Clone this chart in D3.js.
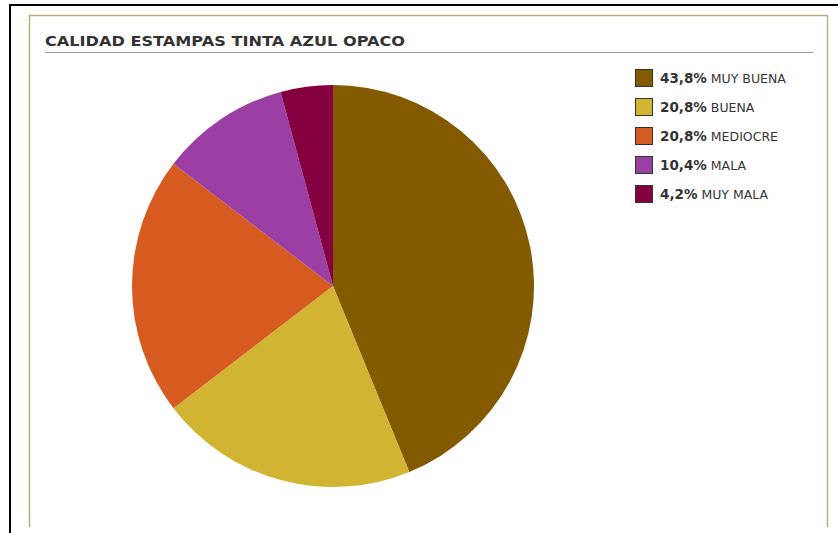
<!DOCTYPE html>
<html><head><meta charset="utf-8">
<script src="https://cdn.jsdelivr.net/npm/d3@7"></script>
<style>body{margin:0;background:#fff;}svg{display:block;}</style>
</head><body>
<script>
const categories = ["MUY BUENA", "BUENA", "MEDIOCRE", "MALA", "MUY MALA"];
const values = [43.8, 20.8, 20.8, 10.4, 4.2];
const percentLabels = ["43,8%", "20,8%", "20,8%", "10,4%", "4,2%"];
const colors = ["#835A00", "#D0B432", "#D75A20", "#9B3FA5", "#850040"];
const title = "CALIDAD ESTAMPAS TINTA AZUL OPACO";

const W = 838, H = 533;
const svg = d3.select("body").append("svg").attr("width", W).attr("height", H);

// outer black frame
svg.append("rect").attr("x", 0).attr("y", 0).attr("width", W).attr("height", H).attr("fill", "#fff");
svg.append("line").attr("x1", 9).attr("x2", W).attr("y1", 5).attr("y2", 5).attr("stroke", "#000").attr("stroke-width", 2);
svg.append("line").attr("x1", 10).attr("x2", 10).attr("y1", 4).attr("y2", H).attr("stroke", "#000").attr("stroke-width", 2);

// inner olive panel
svg.append("path").attr("d", "M29.5,527 V15.5 H827.5 V527")
  .attr("fill", "none").attr("stroke", "#B5B07A").attr("stroke-width", 1.5);

// title
svg.append("text").attr("x", 45).attr("y", 46).text(title)
  .attr("font-family", "Verdana, 'DejaVu Sans', sans-serif").attr("font-weight", "bold")
  .attr("font-size", 14.5).attr("fill", "#333")
  .attr("textLength", 360).attr("lengthAdjust", "spacingAndGlyphs");
svg.append("line").attr("x1", 45).attr("x2", 813).attr("y1", 52.5).attr("y2", 52.5)
  .attr("stroke", "#999").attr("stroke-width", 1);

// pie
const cx = 333, cy = 286, r = 201;
const pie = d3.pie().sort(null).value(d => d)(values);
const arc = d3.arc().innerRadius(0).outerRadius(r);
svg.append("g").attr("transform", `translate(${cx},${cy})`)
  .selectAll("path").data(pie).join("path")
  .attr("d", arc).attr("fill", (d, i) => colors[i]);

// legend
const lg = svg.append("g").attr("transform", "translate(635,69)");
const rows = lg.selectAll("g").data(categories).join("g")
  .attr("transform", (d, i) => `translate(0,${i * 29})`);
rows.append("rect").attr("x", 0.5).attr("y", 0.5).attr("width", 17).attr("height", 17)
  .attr("fill", (d, i) => colors[i]).attr("stroke", "#333").attr("stroke-width", 1);
const t = rows.append("text").attr("x", 25).attr("y", 14)
  .attr("font-family", "Verdana, 'DejaVu Sans', sans-serif").attr("fill", "#333");
t.append("tspan").attr("font-weight", "bold").attr("font-size", 13.5).text((d, i) => percentLabels[i]);
t.append("tspan").attr("font-size", 12.5).text(d => " " + d);
</script>
</body></html>
